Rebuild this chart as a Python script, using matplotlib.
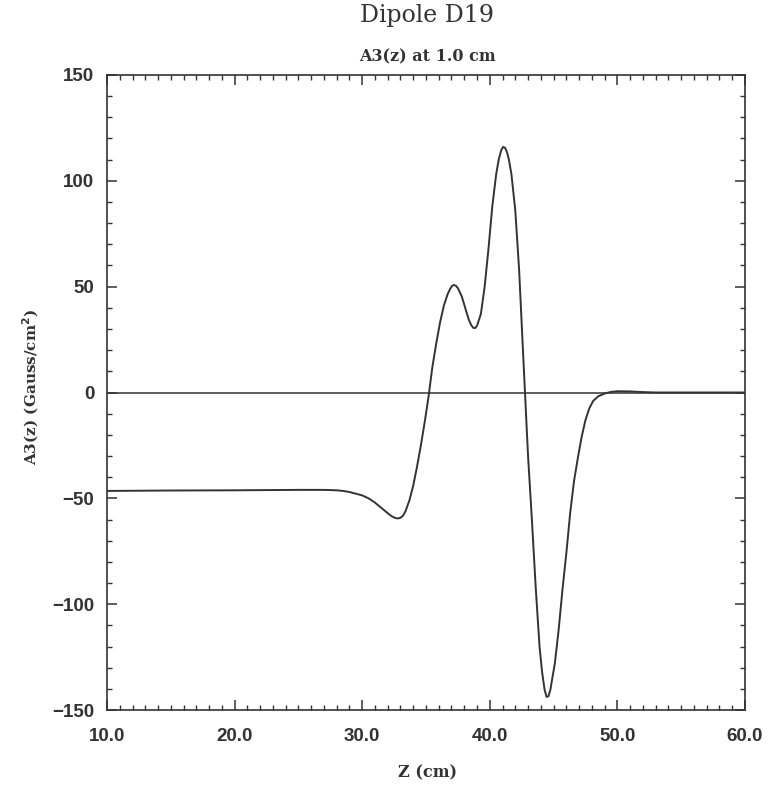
import matplotlib
matplotlib.use("Agg")
import matplotlib.pyplot as plt
from matplotlib.ticker import MultipleLocator, FormatStrFormatter

# --- Daten ---
z_cm = [10.0, 15.0, 20.0, 25.0, 27.0, 28.0, 28.5, 29.0, 29.5, 30.0,
        30.5, 31.0, 31.5, 32.0, 32.3, 32.6, 32.8, 33.0, 33.2, 33.4,
        33.7, 34.0, 34.3, 34.6, 34.9, 35.2, 35.5, 35.8, 36.1, 36.4,
        36.7, 36.9, 37.05, 37.2, 37.35, 37.5, 37.8, 38.1, 38.35, 38.55,
        38.7, 38.85, 39.0, 39.3, 39.6, 39.9, 40.2, 40.5, 40.7, 40.9,
        41.05, 41.2, 41.35, 41.5, 41.7, 42.0, 42.3, 42.6, 42.8, 43.0,
        43.3, 43.6, 43.9, 44.1, 44.3, 44.45, 44.6, 44.75, 44.9, 45.1,
        45.4, 45.7, 46.0, 46.3, 46.6, 46.9, 47.2, 47.5, 47.8, 48.1,
        48.5, 49.0, 49.5, 50.0, 51.0, 52.0, 53.0, 55.0, 60.0]
a3 = [-46.5, -46.3, -46.2, -46.0, -46.0, -46.2, -46.5, -47.0, -47.8, -48.6,
      -50.0, -52.0, -54.5, -57.0, -58.4, -59.3, -59.5, -59.2, -58.2, -56.0,
      -51.0, -44.0, -35.0, -25.0, -14.0, -2.0, 12.0, 23.0, 33.0, 41.0,
      46.5, 49.0, 50.4, 50.8, 50.4, 49.3, 45.5, 39.5, 34.5, 31.8,
      30.6, 30.4, 31.5, 37.0, 50.0, 68.0, 88.0, 103.0, 110.0, 114.5,
      116.0, 115.6, 113.5, 110.0, 103.0, 86.0, 58.0, 20.0, -5.0, -30.0,
      -60.0, -92.0, -120.0, -132.0, -140.5, -143.8, -143.5, -140.5, -135.0, -128.0,
      -112.0, -93.0, -76.0, -57.0, -42.0, -31.0, -21.0, -13.0, -7.5, -4.0,
      -1.8, -0.5, 0.3, 0.6, 0.5, 0.2, 0.0, 0.0, 0.0]

x_ticks = [10, 20, 30, 40, 50, 60]
y_ticks = [-150, -100, -50, 0, 50, 100, 150]

fig = plt.figure(figsize=(7.68, 7.85), dpi=100)
ax = fig.add_axes([0.1393, 0.0955, 0.8307, 0.809])

ax.axhline(0, color='#333333', linewidth=1.1)
ax.plot(z_cm, a3, color='#333333', linewidth=1.4)

ax.set_xlim(10, 60)
ax.set_ylim(-150, 150)
ax.set_xticks(x_ticks)
ax.set_yticks(y_ticks)
ax.xaxis.set_minor_locator(MultipleLocator(1))
ax.yaxis.set_minor_locator(MultipleLocator(10))
ax.xaxis.set_major_formatter(FormatStrFormatter('%.1f'))

ax.tick_params(which='both', direction='in', top=True, right=True, color='#333333')
ax.tick_params(which='major', length=7, width=1.1)
ax.tick_params(which='minor', length=3.5, width=1.0)
ax.tick_params(axis='x', pad=13)
ax.tick_params(axis='y', pad=9)
for lab in ax.get_xticklabels() + ax.get_yticklabels():
    lab.set_fontfamily('Liberation Sans')
    lab.set_fontweight('bold')
    lab.set_fontsize(13.5)
    lab.set_color('#333333')

for sp in ax.spines.values():
    sp.set_linewidth(1.2)
    sp.set_color('#333333')

# Titel und Achsenbeschriftungen
fig.text(0.556, 0.980, "Dipole D19", ha='center', va='center',
         fontfamily='DejaVu Serif', fontsize=17, color='#333333')
fig.text(0.556, 0.927, "A3(z) at 1.0 cm", ha='center', va='center',
         fontfamily='DejaVu Serif', fontweight='bold', fontsize=11.5, color='#333333')
fig.text(0.556, 0.016, "Z (cm)", ha='center', va='center',
         fontfamily='DejaVu Serif', fontweight='bold', fontsize=11.5, color='#333333')
fig.text(0.040, 0.507, "A3(z) (Gauss/cm$^\\mathbf{2}$)", ha='center', va='center',
         rotation=90, fontfamily='DejaVu Serif', fontweight='bold', fontsize=11,
         color='#333333')

fig.savefig("out.png", dpi=100)
